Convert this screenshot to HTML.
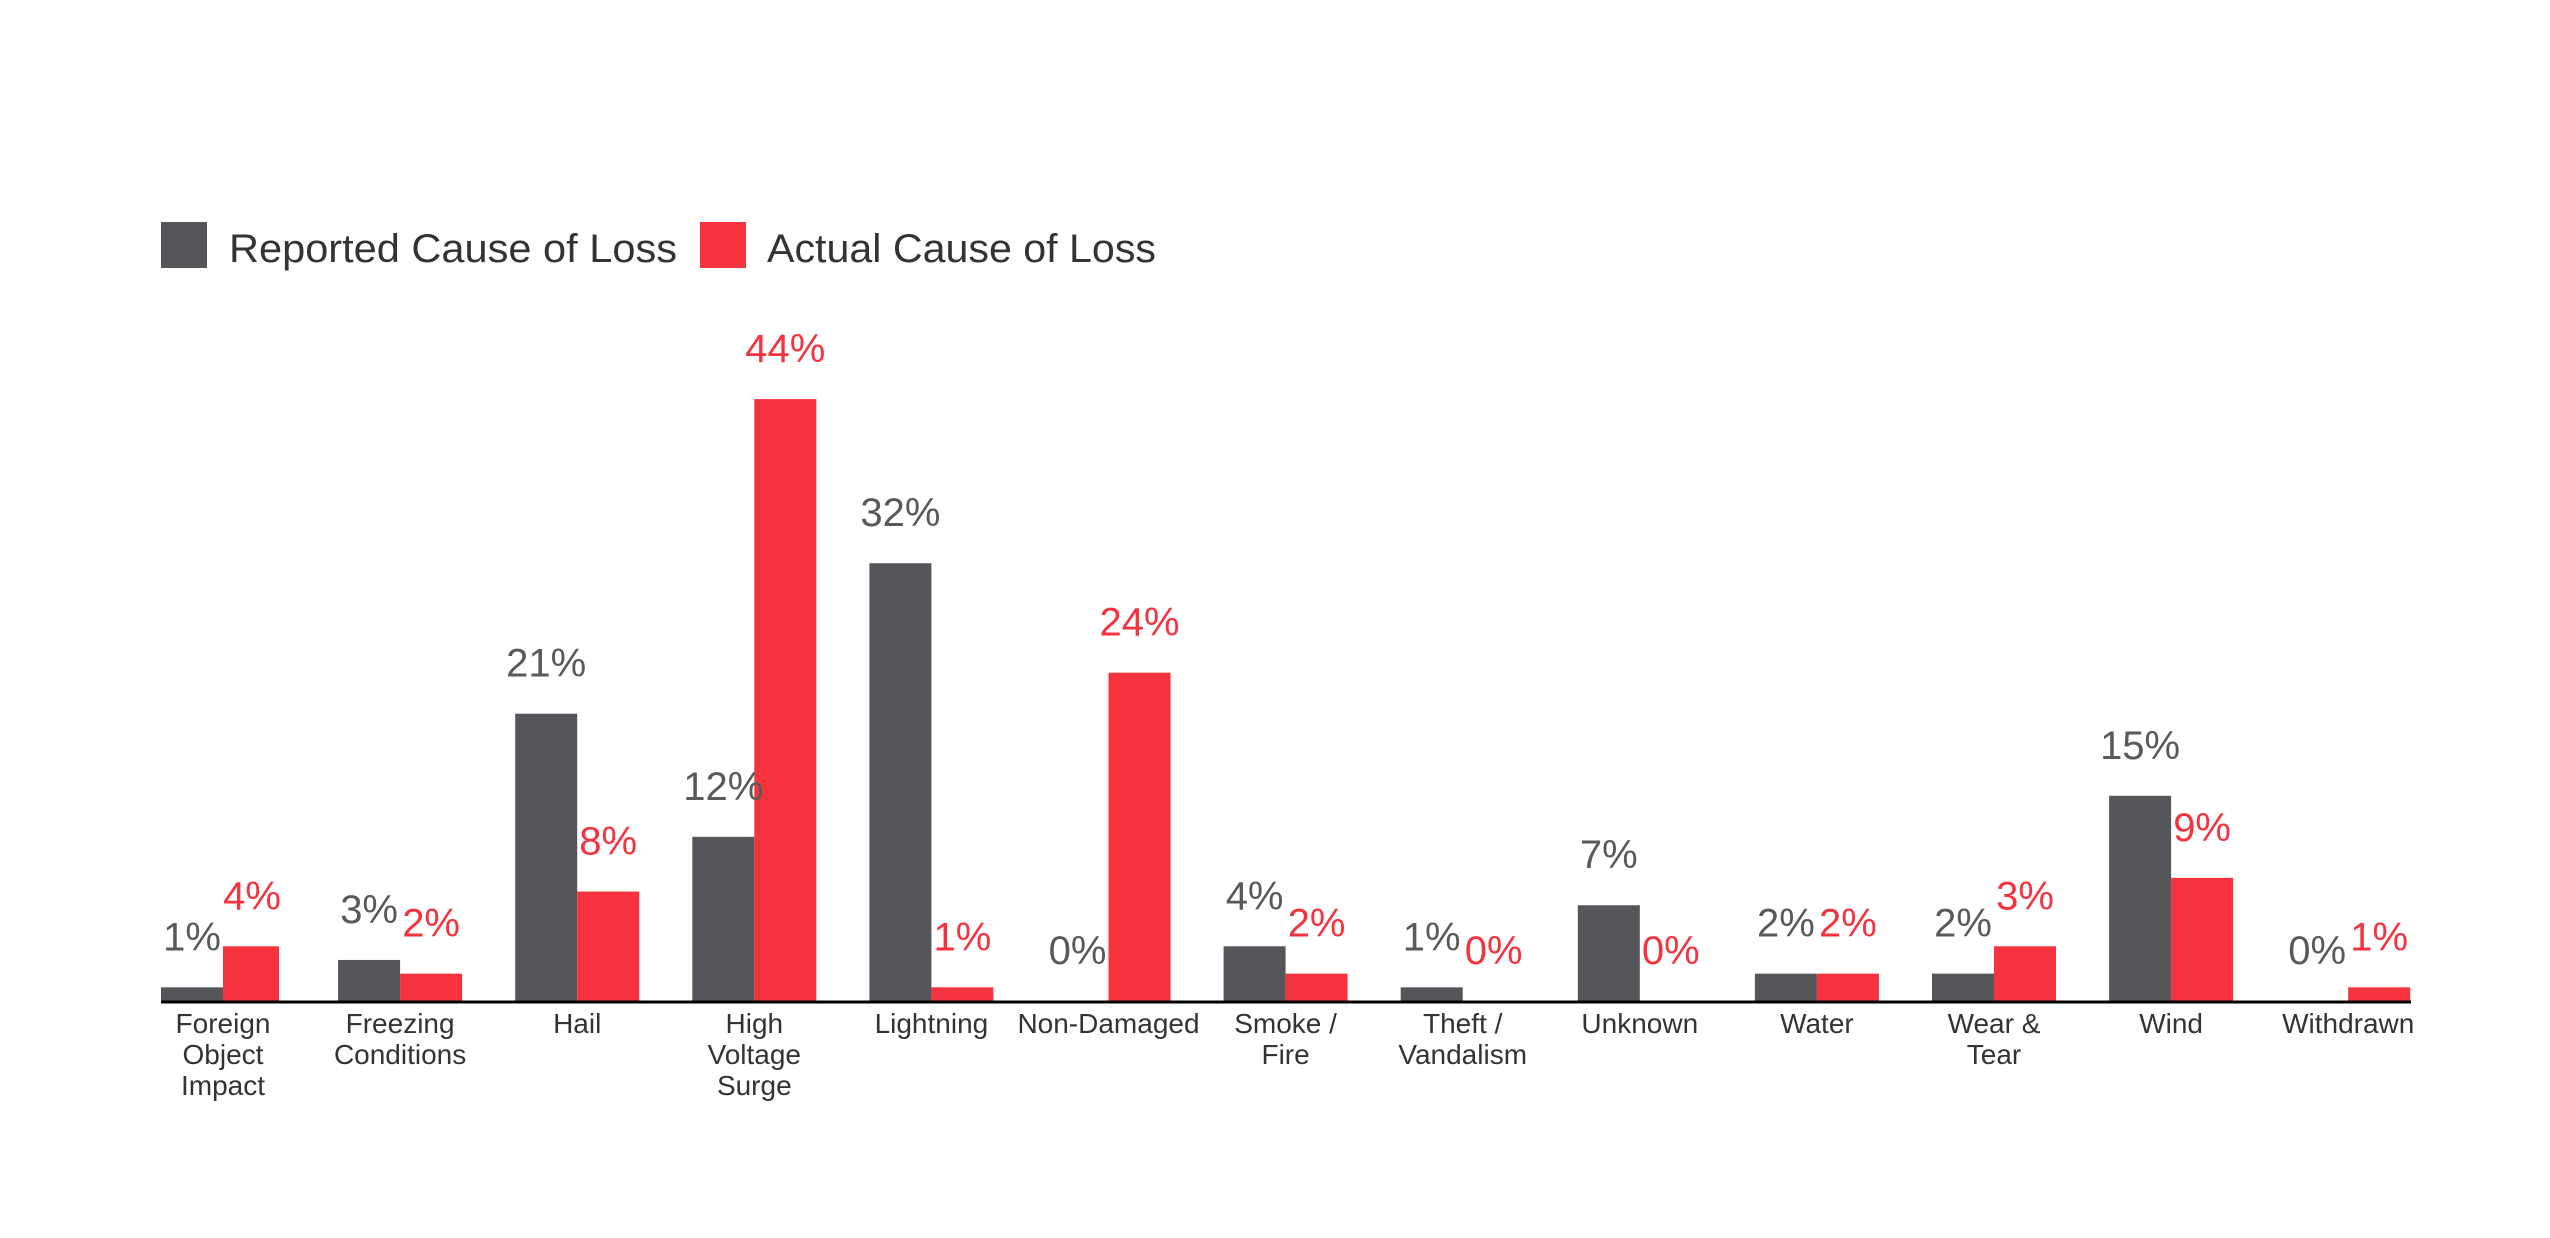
<!DOCTYPE html>
<html><head><meta charset="utf-8"><style>html,body{margin:0;padding:0;background:#fff}svg{display:block}</style></head>
<body>
<svg width="2550" height="1238" viewBox="0 0 2550 1238" xmlns="http://www.w3.org/2000/svg" font-family="Liberation Sans, sans-serif">
<rect width="2550" height="1238" fill="#fff"/>
<rect x="161" y="222" width="46" height="46" fill="#55565a"/>
<text x="229" y="262" font-size="40" fill="#333" textLength="448" lengthAdjust="spacingAndGlyphs">Reported Cause of Loss</text>
<rect x="700" y="222" width="46" height="46" fill="#f5333f"/>
<text x="767" y="262" font-size="40" fill="#333" textLength="389" lengthAdjust="spacingAndGlyphs">Actual Cause of Loss</text>

<g fill="#55565a">
<rect x="161" y="987.32" width="62" height="13.68"/>
<rect x="338.1" y="959.96" width="62" height="41.04"/>
<rect x="515.2" y="713.72" width="62" height="287.28"/>
<rect x="692.3" y="836.84" width="62" height="164.16"/>
<rect x="869.4" y="563.24" width="62" height="437.76"/>
<rect x="1223.6" y="946.28" width="62" height="54.72"/>
<rect x="1400.7" y="987.32" width="62" height="13.68"/>
<rect x="1577.8" y="905.24" width="62" height="95.76"/>
<rect x="1754.9" y="973.64" width="62" height="27.36"/>
<rect x="1932" y="973.64" width="62" height="27.36"/>
<rect x="2109.1" y="795.8" width="62" height="205.2"/>
</g>
<g fill="#f5333f">
<rect x="223" y="946.28" width="56" height="54.72"/>
<rect x="400.1" y="973.64" width="62" height="27.36"/>
<rect x="577.2" y="891.56" width="62" height="109.44"/>
<rect x="754.3" y="399.08" width="62" height="601.92"/>
<rect x="931.4" y="987.32" width="62" height="13.68"/>
<rect x="1108.5" y="672.68" width="62" height="328.32"/>
<rect x="1285.6" y="973.64" width="62" height="27.36"/>
<rect x="1816.9" y="973.64" width="62" height="27.36"/>
<rect x="1994" y="946.28" width="62" height="54.72"/>
<rect x="2171.1" y="877.88" width="62" height="123.12"/>
<rect x="2348.2" y="987.32" width="62" height="13.68"/>
</g>

<g font-size="40" fill="#58595b" text-anchor="middle">
<text x="192" y="950.3">1%</text>
<text x="369.1" y="923">3%</text>
<text x="546.2" y="676.7">21%</text>
<text x="723.3" y="799.8">12%</text>
<text x="900.4" y="526.2">32%</text>
<text x="1077.5" y="964">0%</text>
<text x="1254.6" y="909.3">4%</text>
<text x="1431.7" y="950.3">1%</text>
<text x="1608.8" y="868.2">7%</text>
<text x="1785.9" y="936.6">2%</text>
<text x="1963" y="936.6">2%</text>
<text x="2140.1" y="758.8">15%</text>
<text x="2317.2" y="964">0%</text>
</g>
<g font-size="40" fill="#f5333f" text-anchor="middle">
<text x="252" y="909.3">4%</text>
<text x="431.1" y="936.6">2%</text>
<text x="608.2" y="854.6">8%</text>
<text x="785.3" y="362.1">44%</text>
<text x="962.4" y="950.3">1%</text>
<text x="1139.5" y="635.7">24%</text>
<text x="1316.6" y="936.6">2%</text>
<text x="1493.7" y="964">0%</text>
<text x="1670.8" y="964">0%</text>
<text x="1847.9" y="936.6">2%</text>
<text x="2025" y="909.3">3%</text>
<text x="2202.1" y="840.9">9%</text>
<text x="2379.2" y="950.3">1%</text>
</g>

<line x1="161" y1="1002" x2="2411" y2="1002" stroke="#000" stroke-width="3"/>

<g font-size="28" fill="#333" text-anchor="middle">
<text x="223" y="1033">Foreign</text><text x="223" y="1064">Object</text><text x="223" y="1095">Impact</text>
<text x="400.1" y="1033">Freezing</text><text x="400.1" y="1064">Conditions</text>
<text x="577.2" y="1033">Hail</text>
<text x="754.3" y="1033">High</text><text x="754.3" y="1064">Voltage</text><text x="754.3" y="1095">Surge</text>
<text x="931.4" y="1033">Lightning</text>
<text x="1108.5" y="1033">Non-Damaged</text>
<text x="1285.6" y="1033">Smoke /</text><text x="1285.6" y="1064">Fire</text>
<text x="1462.7" y="1033">Theft /</text><text x="1462.7" y="1064">Vandalism</text>
<text x="1639.8" y="1033">Unknown</text>
<text x="1816.9" y="1033">Water</text>
<text x="1994" y="1033">Wear &amp;</text><text x="1994" y="1064">Tear</text>
<text x="2171.1" y="1033">Wind</text>
<text x="2348.2" y="1033">Withdrawn</text>
</g>
</svg>
</body></html>
